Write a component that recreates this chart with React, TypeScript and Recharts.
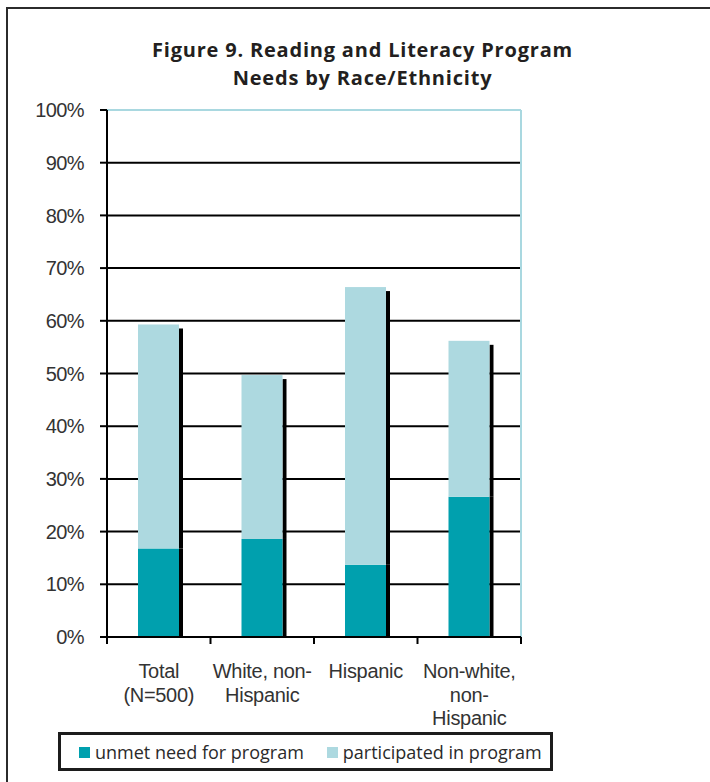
import React from 'react';
import { BarChart, Bar, XAxis, YAxis, CartesianGrid, Legend } from 'recharts';

// Race/ethnicity groups (line breaks mark where the axis label wraps)
const categories = ['Total\n(N=500)', 'White, non-\nHispanic', 'Hispanic', 'Non-white,\nnon-\nHispanic'];
// Percent of respondents with an unmet need for a reading/literacy program
const unmetNeed = [16.8, 18.6, 13.7, 26.6];
// Percent of respondents who participated in a program
const participated = [42.5, 31.1, 52.7, 29.6];
const yTicks = [0, 10, 20, 30, 40, 50, 60, 70, 80, 90, 100];
const seriesNames = ['unmet need for program', 'participated in program'];
const seriesColors = ['#00A0AE', '#ADD9E0'];
const titleLines = ['Figure 9. Reading and Literacy Program', 'Needs by Race/Ethnicity'];

const data = categories.map((name, i) => ({
  name,
  unmet: unmetNeed[i],
  participated: participated[i],
}));

const W = 710;
const H = 782;
const MARGIN = { top: 110, right: 189, bottom: 45, left: 47 };
const Y_AXIS_W = 60;
const X_AXIS_H = 100;
const PLOT_W = W - MARGIN.left - MARGIN.right - Y_AXIS_W;

const SANS = '"Liberation Sans", Arial, sans-serif';
const BORDER_BLUE = '#A9D8E0';

// Bar with a dark drop-shadow strip on its right side
const shadowedBar = (dropTop: number) => (props: any) => {
  const { x, y, width, height, fill } = props;
  if (height <= 0) return <g />;
  return (
    <g>
      <rect x={x + width} y={y + dropTop} width={4} height={Math.max(0, height - dropTop)} fill="#000" />
      <rect x={x} y={y} width={width} height={height} fill={fill} />
    </g>
  );
};

const CategoryTick = (props: any) => {
  const { x, y, payload, index } = props;
  const band = PLOT_W / categories.length;
  const lines = String(payload.value).split('\n');
  return (
    <g>
      <line x1={x - band / 2} x2={x - band / 2} y1={y} y2={y + 7} stroke="#000" strokeWidth={2} />
      {index === categories.length - 1 && (
        <line x1={x + band / 2} x2={x + band / 2} y1={y} y2={y + 7} stroke="#000" strokeWidth={2} />
      )}
      {lines.map((ln, i) => (
        <text
          key={i}
          x={x}
          y={y + 41 + i * 23.5}
          textAnchor="middle"
          fill="#333"
          fontSize={20}
          fontFamily={SANS}
          letterSpacing={-0.3}
        >
          {ln}
        </text>
      ))}
    </g>
  );
};

const LegendBox = () => (
  <div
    style={{
      boxSizing: 'border-box',
      width: 495,
      height: 39,
      border: '3px solid #1c1c1c',
      background: '#fff',
      display: 'flex',
      alignItems: 'center',
      paddingLeft: 18,
      fontFamily: '"Open Sans", sans-serif',
      fontSize: 18,
      color: '#2a2a2a',
      whiteSpace: 'nowrap',
    }}
  >
    {seriesNames.map((n, i) => (
      <div key={n} style={{ display: 'flex', alignItems: 'center', marginRight: 23, flexShrink: 0 }}>
        <span
          style={{
            display: 'inline-block',
            width: 11,
            height: 11,
            background: seriesColors[i],
            marginRight: 5,
            marginTop: 2,
          }}
        />
        <span>{n}</span>
      </div>
    ))}
  </div>
);

export default function App() {
  return (
    <div style={{ position: 'absolute', left: 0, top: 0, width: W, height: H, background: '#fff', overflow: 'hidden' }}>
      {/* outer frame */}
      <div
        style={{
          position: 'absolute',
          left: 6,
          top: 7,
          width: 760,
          height: 820,
          border: '2px solid #2b2b2b',
          boxSizing: 'border-box',
        }}
      />
      {titleLines.map((t, i) => (
        <div
          key={t}
          style={{
            position: 'absolute',
            left: 0,
            top: 36 + i * 28,
            width: 725,
            height: 28,
            textAlign: 'center',
            fontFamily: '"Open Sans", sans-serif',
            fontWeight: 700,
            fontSize: 20,
            lineHeight: '28px',
            color: '#231f20',
            letterSpacing: 0.8,
          }}
        >
          {t}
        </div>
      ))}
      <div style={{ position: 'absolute', left: 0, top: 0 }}>
        <BarChart width={W} height={H} data={data} margin={MARGIN}>
          <CartesianGrid vertical={false} stroke="#000" strokeWidth={2} />
          <CartesianGrid
            horizontalCoordinatesGenerator={({ offset }: any) => [offset.top]}
            verticalCoordinatesGenerator={({ offset }: any) => [offset.left + offset.width]}
            stroke={BORDER_BLUE}
            strokeWidth={2}
          />
          <XAxis
            dataKey="name"
            height={X_AXIS_H}
            interval={0}
            axisLine={{ stroke: '#000', strokeWidth: 2 }}
            tickLine={false}
            tickSize={0}
            tickMargin={0}
            tick={<CategoryTick />}
          />
          <YAxis
            width={Y_AXIS_W}
            domain={[0, 100]}
            ticks={yTicks}
            interval={0}
            tickFormatter={(v: number) => `${v}%`}
            axisLine={{ stroke: '#000', strokeWidth: 2 }}
            tickLine={{ stroke: '#000', strokeWidth: 2 }}
            tickSize={7}
            tickMargin={16}
            tick={{ fill: '#333', fontSize: 20, fontFamily: SANS, letterSpacing: -0.6 }}
          />
          <Legend
            layout="horizontal"
            verticalAlign="middle"
            align="center"
            wrapperStyle={{ left: 58, top: 732, width: 495 }}
            content={<LegendBox />}
          />
          <Bar
            dataKey="unmet"
            name={seriesNames[0]}
            stackId="a"
            fill={seriesColors[0]}
            barSize={41}
            isAnimationActive={false}
            shape={shadowedBar(0)}
          />
          <Bar
            dataKey="participated"
            name={seriesNames[1]}
            stackId="a"
            fill={seriesColors[1]}
            barSize={41}
            isAnimationActive={false}
            shape={shadowedBar(4)}
          />
        </BarChart>
      </div>
    </div>
  );
}
